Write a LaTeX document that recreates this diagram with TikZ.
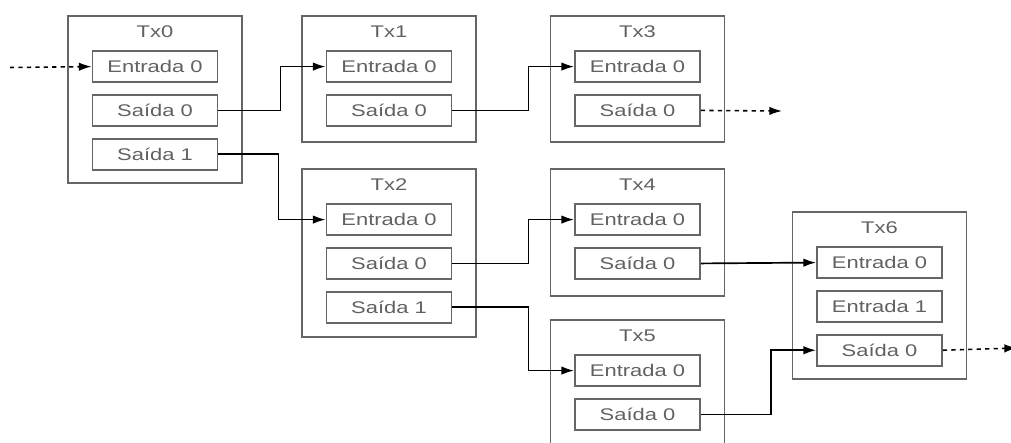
\documentclass[tikz,border=0pt]{standalone}
\usepackage{fontspec}
\setmainfont{Liberation Sans}[FakeStretch=1.3]
\usetikzlibrary{arrows.meta, positioning, calc}

\begin{document}
\begin{tikzpicture}[x=0.025cm, y=-0.025cm,
    tx/.style={draw=black!60, line width=1.3pt, minimum width=4.35cm, inner sep=0pt},
    campo/.style={draw=black!60, line width=1.3pt, minimum width=3.125cm, minimum height=0.775cm,
      inner sep=0pt, text=black!62, font=\fontsize{12}{14}\selectfont},
    titulo/.style={text=black!62, font=\fontsize{12}{14}\selectfont},
    liga/.style={-{Latex[length=9pt,width=6pt]}, line width=1.2pt},
    externa/.style={-{Latex[length=9pt,width=6pt]}, line width=1.1pt, dash pattern=on 3pt off 3pt}]
      \useasboundingbox (0,0) rectangle (1011,442);
      \clip (0,0) rectangle (1011,442);

      % Transactions
      \node[tx, minimum height=4.175cm] (tx0) at (155,99.5) {};
      \node[tx, minimum height=3.15cm] (tx1) at (389,79) {};
      \node[tx, minimum height=3.15cm] (tx3) at (637.5,79) {};
      \node[tx, minimum height=4.2cm] (tx2) at (389,253) {};
      \node[tx, minimum height=3.175cm] (tx4) at (637.5,232.5) {};
      \node[tx, minimum height=3.2cm] (tx5) at (637.5,384) {};
      \node[tx, minimum height=4.175cm] (tx6) at (879.5,295.5) {};

      % Titles
      \foreach \t/\n in {tx0/Tx0, tx1/Tx1, tx2/Tx2, tx3/Tx3, tx4/Tx4, tx5/Tx5, tx6/Tx6} {
          \node[titulo, yshift=-0.425cm] at (\t.north) {\n};
      }

      % Inputs and outputs
      \node[campo, yshift=-1.2875cm] (tx0e0) at (tx0.north) {Entrada 0};
      \node[campo, below=0.275cm of tx0e0] (tx0s0) {Saída 0};
      \node[campo, below=0.275cm of tx0s0] (tx0s1) {Saída 1};

      \node[campo, yshift=-1.2875cm] (tx1e0) at (tx1.north) {Entrada 0};
      \node[campo, below=0.275cm of tx1e0] (tx1s0) {Saída 0};

      \node[campo, yshift=-1.2875cm] (tx3e0) at (tx3.north) {Entrada 0};
      \node[campo, below=0.275cm of tx3e0] (tx3s0) {Saída 0};

      \node[campo, yshift=-1.2875cm] (tx2e0) at (tx2.north) {Entrada 0};
      \node[campo, below=0.275cm of tx2e0] (tx2s0) {Saída 0};
      \node[campo, below=0.275cm of tx2s0] (tx2s1) {Saída 1};

      \node[campo, yshift=-1.2875cm] (tx4e0) at (tx4.north) {Entrada 0};
      \node[campo, below=0.275cm of tx4e0] (tx4s0) {Saída 0};

      \node[campo, yshift=-1.2875cm] (tx5e0) at (tx5.north) {Entrada 0};
      \node[campo, below=0.275cm of tx5e0] (tx5s0) {Saída 0};

      \node[campo, yshift=-1.2875cm] (tx6e0) at (tx6.north) {Entrada 0};
      \node[campo, below=0.275cm of tx6e0] (tx6e1) {Entrada 1};
      \node[campo, below=0.275cm of tx6e1] (tx6s0) {Saída 0};

      % Links between transactions
      \draw[liga] (tx0s0.east) -- ++(62,0) |- (tx1e0.west);
      \draw[liga] (tx0s1.east) -- ++(60,0) |- (tx2e0.west);
      \draw[liga] (tx1s0.east) -- ++(76,0) |- (tx3e0.west);
      \draw[liga] (tx2s0.east) -- ++(76,0) |- (tx4e0.west);
      \draw[liga] (tx2s1.east) -- ++(76,0) |- (tx5e0.west);
      \draw[liga] (tx4s0.east) -- (tx6e0.west);
      \draw[liga] (tx5s0.east) -- ++(70,0) |- (tx6s0.west);

      % Open ends
      \coordinate (entra) at (10,67.5);
      \coordinate (sai3) at (782,111);
      \coordinate (sai6) at (1017,348);
      \draw[externa] (entra) -- (tx0e0.west);
      \draw[externa] (tx3s0.east) -- (sai3);
      \draw[externa] (tx6s0.east) -- (sai6);
    \end{tikzpicture}
\end{document}
